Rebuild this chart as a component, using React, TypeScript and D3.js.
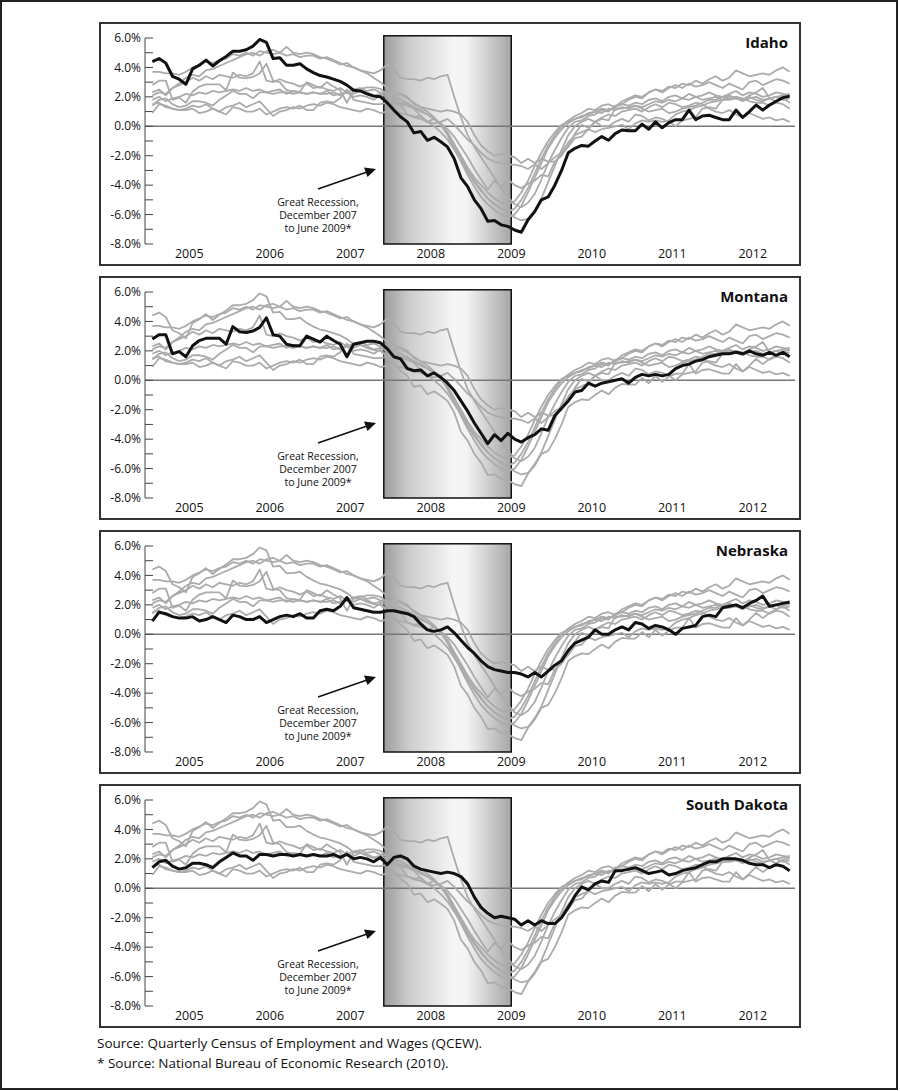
import React from "react";
import * as d3 from "d3";

// ---- Data: year-over-year employment change (%), monthly Jan 2005 – Dec 2012 ----
const years = [2005, 2006, 2007, 2008, 2009, 2010, 2011, 2012];
const yTickLabels = [6, 4, 2, 0, -2, -4, -6, -8];
const recession = { start: 2007 + 11 / 12, end: 2009.5 };

const idaho = [
  4.4, 4.6, 4.3, 3.4, 3.2, 2.85, 3.9, 4.15, 4.5, 4.1, 4.45, 4.75,
  5.1, 5.1, 5.2, 5.45, 5.9, 5.7, 4.6, 4.65, 4.15, 4.15, 4.25, 3.9,
  3.65, 3.45, 3.35, 3.2, 3.05, 2.8, 2.45, 2.4, 2.2, 2.05, 2.0, 1.6,
  1.1, 0.65, 0.3, -0.45, -0.35, -0.95, -0.75, -1.05, -1.4, -2.2, -3.5, -4.1,
  -5.0, -5.6, -6.45, -6.4, -6.7, -6.8, -7.05, -7.2, -6.35, -5.8, -5.0, -4.8,
  -4.0, -3.0, -1.8, -1.5, -1.3, -1.35, -1.0, -0.7, -0.95, -0.5, -0.25, -0.3,
  -0.3, 0.15, -0.2, 0.3, -0.1, 0.25, 0.45, 0.45, 1.1, 0.45, 0.7, 0.75,
  0.6, 0.45, 0.45, 1.1, 0.6, 1.0, 1.45, 1.1, 1.45, 1.7, 1.95, 2.05,
];
const montana = [
  2.8, 3.1, 3.1, 1.8, 1.95, 1.6, 2.35, 2.7, 2.85, 2.85, 2.85, 2.45,
  3.65, 3.3, 3.25, 3.35, 3.6, 4.25, 3.1, 3.0, 2.45, 2.35, 2.35, 3.0,
  2.8, 2.6, 3.0, 2.7, 2.45, 1.6, 2.45, 2.55, 2.65, 2.65, 2.55, 2.15,
  1.6, 1.45, 0.8, 0.65, 0.7, 0.3, 0.5, 0.2, -0.2, -0.7, -1.4, -2.1,
  -2.9, -3.6, -4.3, -3.7, -4.1, -3.6, -4.0, -4.2, -3.9, -3.7, -3.3, -3.4,
  -2.4, -1.9, -1.4, -0.8, -0.7, -0.2, -0.4, -0.2, -0.1, 0.0, 0.1, -0.2,
  0.2, 0.4, 0.3, 0.4, 0.3, 0.4, 0.8, 1.0, 1.1, 1.3, 1.4, 1.6,
  1.7, 1.8, 1.8, 1.9, 1.8, 2.0, 1.8, 1.7, 1.9, 1.7, 1.9, 1.6,
];
const nebraska = [
  0.9, 1.5, 1.4, 1.2, 1.1, 1.1, 1.2, 0.9, 1.0, 1.2, 1.0, 0.8,
  1.3, 1.2, 1.0, 1.0, 1.2, 0.8, 1.0, 1.2, 1.3, 1.2, 1.4, 1.1,
  1.1, 1.6, 1.7, 1.6, 1.9, 2.5, 1.8, 1.7, 1.6, 1.5, 1.5, 1.6,
  1.6, 1.5, 1.4, 1.2, 0.7, 0.3, 0.2, 0.3, 0.5, 0.1, -0.4, -0.9,
  -1.3, -1.8, -2.2, -2.4, -2.5, -2.6, -2.6, -2.7, -2.9, -2.6, -2.9, -2.5,
  -2.1, -1.8, -1.1, -0.6, -0.4, -0.2, 0.3, 0.0, 0.0, 0.3, 0.5, 0.3,
  0.8, 0.7, 0.4, 0.6, 0.5, 0.3, 0.0, 0.4, 0.5, 0.6, 1.2, 1.3,
  1.2, 1.8, 1.9, 2.0, 1.8, 2.1, 2.3, 2.6, 1.9, 2.0, 2.1, 2.2,
];
const southDakota = [
  1.4, 1.8, 1.9, 1.5, 1.3, 1.4, 1.7, 1.7, 1.6, 1.4, 1.8, 2.1,
  2.4, 2.2, 2.2, 1.9, 2.3, 2.3, 2.2, 2.3, 2.3, 2.2, 2.3, 2.2,
  2.3, 2.2, 2.2, 2.3, 2.1, 2.3, 2.0, 2.1, 2.0, 1.8, 2.1, 1.6,
  2.1, 2.2, 2.0, 1.5, 1.3, 1.2, 1.1, 1.0, 1.1, 1.0, 0.8, 0.3,
  -0.6, -1.3, -1.7, -2.0, -1.9, -2.0, -2.1, -2.5, -2.2, -2.5, -2.2, -2.4,
  -2.4, -2.0, -1.3, -0.5, 0.1, -0.1, 0.3, 0.5, 0.4, 1.2, 1.2, 1.3,
  1.4, 1.2, 1.0, 1.1, 1.2, 0.9, 1.0, 1.2, 1.3, 1.4, 1.6, 1.8,
  1.8, 2.0, 2.0, 2.0, 1.9, 1.7, 1.6, 1.6, 1.4, 1.6, 1.5, 1.2,
];
const otherA = [
  3.7, 3.7, 3.6, 3.6, 3.5, 3.7, 4.0, 4.2, 4.4, 4.3, 4.5, 4.6,
  4.9, 4.8, 5.0, 4.8, 5.1, 5.0, 4.9, 5.0, 4.8, 4.9, 4.7, 4.8,
  4.8, 4.6, 4.7, 4.5, 4.3, 4.1, 4.0, 3.8, 3.7, 3.6, 3.8, 4.2,
  3.9, 3.3, 3.2, 3.2, 3.1, 3.3, 3.2, 3.4, 3.5, 2.0, 0.6, -0.6,
  -1.4, -2.1, -2.8, -3.5, -4.2, -4.8, -5.3, -5.5, -5.2, -4.6, -3.6, -2.5,
  -1.6, -0.8, -0.1, 0.3, 0.4, 0.7, 0.8, 1.1, 1.0, 1.4, 1.5, 1.8,
  2.0, 1.9, 2.3, 2.5, 2.4, 2.7, 2.6, 2.9, 2.8, 3.1, 2.9, 3.2,
  3.4, 3.1, 3.3, 3.8, 3.6, 3.4, 3.5, 3.6, 3.5, 3.8, 4.0, 3.7,
];
const otherB = [
  2.3, 2.5, 2.1, 2.6, 2.8, 3.0, 3.3, 3.1, 3.4, 3.2, 3.5, 3.4,
  3.3, 3.5, 3.4, 3.6, 4.4, 3.1, 3.0, 3.2, 3.0, 2.9, 2.7, 2.9,
  2.6, 2.7, 2.5, 2.4, 2.6, 2.3, 2.5, 2.6, 2.4, 2.5, 2.3, 2.2,
  2.0, 1.8, 1.6, 1.3, 1.1, 0.8, 0.5, 0.1, -0.5, -1.3, -2.1, -3.0,
  -3.7, -4.3, -4.9, -5.3, -5.6, -5.8, -5.6, -5.0, -4.2, -3.2, -2.2, -1.3,
  -0.6, 0.0, 0.4, 0.7, 0.9, 1.2, 1.1, 1.4, 1.5, 1.3, 1.7, 1.9,
  2.1, 2.0, 2.3, 2.5, 2.3, 2.6, 2.8, 2.6, 2.9, 2.7, 2.8, 3.0,
  2.8, 2.6, 2.9, 2.7, 2.5, 3.0, 3.1, 2.8, 3.0, 3.2, 3.1, 2.9,
];
const otherC = [
  2.1, 2.3, 2.2, 2.6, 2.9, 3.3, 3.5, 3.4, 3.8, 3.9, 4.1, 4.3,
  4.5, 4.7, 4.9, 5.0, 4.8, 5.1, 5.2, 5.0, 5.4, 5.0, 4.9, 5.0,
  4.9, 4.7, 4.6, 4.4, 4.2, 4.3, 4.0, 3.8, 3.6, 3.3, 3.0, 2.6,
  2.4, 2.2, 1.9, 1.6, 1.3, 1.0, 0.6, 0.1, -0.6, -1.5, -2.4, -3.3,
  -4.1, -4.8, -5.3, -5.7, -6.0, -6.2, -6.0, -5.4, -4.5, -3.5, -2.5, -1.5,
  -0.8, -0.2, 0.2, 0.5, 0.6, 0.9, 1.0, 1.2, 1.1, 1.3, 1.5, 1.4,
  1.6, 1.5, 1.8, 1.9, 1.7, 2.0, 2.1, 1.9, 2.2, 2.0, 2.1, 2.3,
  2.1, 2.0, 2.2, 2.4, 2.1, 2.3, 2.2, 2.0, 2.1, 2.3, 2.2, 2.1,
];
const otherD = [
  1.8, 2.0, 1.7, 1.9, 2.0, 2.2, 2.1, 2.3, 2.2, 2.4, 2.3, 2.4,
  2.5, 2.4, 2.6, 2.4, 2.5, 2.3, 2.4, 2.5, 2.2, 2.4, 2.3, 2.2,
  2.3, 2.2, 2.4, 2.1, 2.2, 2.3, 2.2, 2.4, 2.3, 2.1, 2.2, 2.0,
  1.8, 1.6, 1.5, 1.3, 1.0, 0.8, 0.5, 0.1, -0.4, -1.2, -2.0, -2.8,
  -3.5, -4.0, -4.5, -4.9, -5.2, -5.3, -5.1, -4.5, -3.7, -2.7, -1.8, -1.0,
  -0.4, 0.1, 0.3, 0.5, 0.7, 0.8, 1.0, 0.9, 1.2, 1.1, 1.3, 1.2,
  1.4, 1.3, 1.5, 1.7, 1.6, 1.8, 1.7, 1.9, 1.8, 2.0, 1.8, 1.9,
  2.0, 1.8, 2.1, 1.9, 1.7, 1.9, 2.0, 1.8, 1.9, 2.0, 1.8, 1.9,
];
const otherE = [
  1.5, 1.6, 1.3, 1.2, 1.1, 1.2, 1.4, 1.3, 1.5, 1.2, 1.0, 1.3,
  1.4, 1.6, 1.3, 1.5, 1.7, 1.2, 0.7, 1.0, 1.1, 1.3, 1.2, 1.4,
  1.5, 1.4, 1.6, 1.5, 1.3, 1.2, 1.1, 1.0, 1.2, 1.1, 0.9, 1.0,
  1.0, 0.9, 0.8, 0.6, 0.5, 0.3, 0.0, -0.4, -0.9, -1.6, -2.3, -3.1,
  -3.8, -4.4, -4.9, -5.3, -5.6, -5.9, -6.2, -6.4, -6.3, -5.7, -4.9, -3.8,
  -2.7, -1.6, -0.6, 0.0, 0.3, 0.5, 0.3, 0.6, 0.8, 0.7, 1.0, 1.1,
  1.2, 1.0, 1.3, 1.5, 1.3, 1.6, 1.5, 1.3, 1.4, 1.6, 1.5, 1.2,
  1.0, 0.9, 1.1, 0.8, 0.6, 0.9, 0.7, 0.5, 0.6, 0.4, 0.5, 0.3,
];

const states = ["Idaho", "Montana", "Nebraska", "South Dakota", "A", "B", "C", "D", "E"];
const stateValues = [idaho, montana, nebraska, southDakota, otherA, otherB, otherC, otherD, otherE];
const panelStates = ["Idaho", "Montana", "Nebraska", "South Dakota"];

const FONT = "'Open Sans', 'Noto Sans', sans-serif";
const W = 900;
const H = 1091;

const x = d3.scaleLinear().domain([2005, 2013]).range([149, 793]);
const monthTime = (i: number) => 2005 + (i + 0.5) / 12;

function Panel({ name, top }: { name: string; top: number }) {
  const y = d3.scaleLinear().domain([-8, 6]).range([top + 221, top + 15]);
  const line = d3
    .line<number>()
    .x((_, i) => x(monthTime(i)))
    .y((d) => y(d));
  const gid = "recGrad";
  const axisX = 145;
  const minor = d3.range(-8, 7, 1);
  const bx0 = x(recession.start);
  const bx1 = x(recession.end);
  return (
    <g>
      <rect x={100} y={top} width={700} height={242} fill="#fff" stroke="#333" strokeWidth={2} />
      <rect
        x={bx0}
        y={y(6.15)}
        width={bx1 - bx0}
        height={y(-8) - y(6.15)}
        fill={`url(#${gid})`}
        stroke="#111"
        strokeWidth={1.5}
      />
      <line x1={axisX} x2={x(2013) + 2} y1={y(0)} y2={y(0)} stroke="#777" strokeWidth={1.5} />
      {/* y axis */}
      <line x1={axisX} x2={axisX} y1={y(6)} y2={y(-8)} stroke="#444" strokeWidth={1} />
      {minor.map((v) => (
        <line key={v} x1={axisX} x2={axisX + 8} y1={y(v)} y2={y(v)} stroke="#444" strokeWidth={1} />
      ))}
      {yTickLabels.map((v) => (
        <text
          key={v}
          x={axisX - 4}
          y={y(v)}
          dy="0.35em"
          textAnchor="end"
          fontFamily={FONT}
          fontSize={12}
          fill="#111"
        >
          {`${v.toFixed(1)}%`}
        </text>
      ))}
      {years.map((yr) => (
        <text
          key={yr}
          x={x(yr + 0.5)}
          y={top + 235}
          textAnchor="middle"
          fontFamily={FONT}
          fontSize={12.5}
          fill="#111"
        >
          {yr}
        </text>
      ))}
      {/* gray comparison lines */}
      {states.map((s, k) =>
        s === name ? null : (
          <path key={s} d={line(stateValues[k]) || ""} fill="none" stroke="#ababab" strokeWidth={1.8} strokeLinejoin="round" />
        )
      )}
      {/* highlighted state */}
      <path
        d={line(stateValues[states.indexOf(name)]) || ""}
        fill="none"
        stroke="#111"
        strokeWidth={3}
        strokeLinejoin="round"
      />
      <text x={788} y={top + 25} textAnchor="end" fontFamily={FONT} fontWeight={700} fontSize={15} fill="#111">
        {name}
      </text>
      {/* annotation */}
      <line x1={318} y1={top + 166} x2={367} y2={top + 149} stroke="#111" strokeWidth={1.6} />
      <path
        d={`M ${376} ${top + 146} L ${364} ${top + 144.5} L ${367.5} ${top + 154} Z`}
        fill="#111"
      />
      {["Great Recession,", "December 2007", "to June 2009*"].map((t, i) => (
        <text
          key={t}
          x={318}
          y={top + 183 + i * 13}
          textAnchor="middle"
          fontFamily={FONT}
          fontSize={10.5}
          fill="#111"
        >
          {t}
        </text>
      ))}
    </g>
  );
}

export default function App() {
  return (
    <svg
      width={W}
      height={H}
      viewBox={`0 0 ${W} ${H}`}
      style={{ position: "absolute", left: 0, top: 0, background: "#fff" }}
    >
      <defs>
        <linearGradient id="recGrad" x1="0" x2="1" y1="0" y2="0">
          <stop offset="0" stopColor="#9c9c9c" />
          <stop offset="0.2" stopColor="#cdcdcd" />
          <stop offset="0.55" stopColor="#f6f6f6" />
          <stop offset="0.65" stopColor="#f4f4f4" />
          <stop offset="1" stopColor="#a6a6a6" />
        </linearGradient>
      </defs>
      <rect x={1} y={1} width={W - 4} height={H - 3} fill="#fff" stroke="#222" strokeWidth={2} />
      {panelStates.map((s, p) => (
        <Panel key={s} name={s} top={23 + p * 254} />
      ))}
      <text x={97} y={1048} fontFamily={FONT} fontSize={13.5} fill="#111">
        Source: Quarterly Census of Employment and Wages (QCEW).
      </text>
      <text x={97} y={1068} fontFamily={FONT} fontSize={13.5} fill="#111">
        * Source: National Bureau of Economic Research (2010).
      </text>
    </svg>
  );
}
